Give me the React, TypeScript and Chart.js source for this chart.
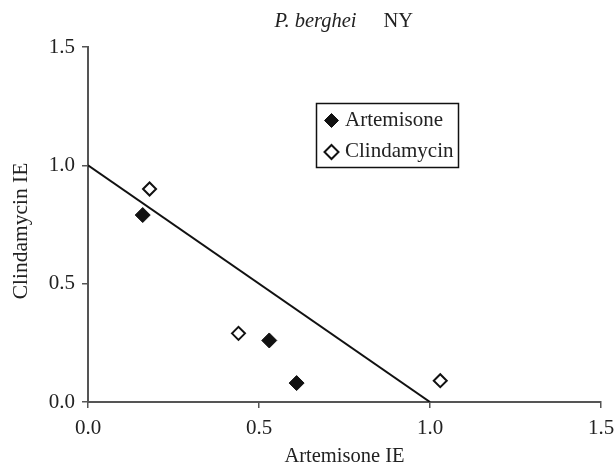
import React, { useEffect, useRef } from "react";
import { Chart, registerables } from "chart.js";

Chart.register(...registerables);

const titleItalic = "P. berghei";
const titleNormal = "NY";
const xAxisTitle = "Artemisone IE";
const yAxisTitle = "Clindamycin IE";
const seriesNames = ["Artemisone", "Clindamycin"];

const artemisoneX = [0.16, 0.53, 0.61];
const artemisoneY = [0.79, 0.26, 0.08];
const clindamycinX = [0.18, 0.44, 1.03];
const clindamycinY = [0.9, 0.29, 0.09];
const additivityX = [0, 1];
const additivityY = [1, 0];

const axisMin = 0;
const axisMax = 1.5;
const axisStep = 0.5;

const FONT = "'Liberation Serif', 'Times New Roman', serif";
const TEXT = "#222222";
const AXIS = "#555555";

function diamond(ctx: CanvasRenderingContext2D, x: number, y: number, r: number, filled: boolean) {
  ctx.save();
  ctx.beginPath();
  ctx.moveTo(x, y - r);
  ctx.lineTo(x + r, y);
  ctx.lineTo(x, y + r);
  ctx.lineTo(x - r, y);
  ctx.closePath();
  ctx.fillStyle = filled ? "#111111" : "#ffffff";
  ctx.fill();
  ctx.lineWidth = filled ? 1 : 2;
  ctx.strokeStyle = "#111111";
  ctx.stroke();
  ctx.restore();
}

const decorPlugin = {
  id: "decor",
  afterDraw(chart: any) {
    const ctx: CanvasRenderingContext2D = chart.ctx;
    const area = chart.chartArea;
    ctx.save();
    // title
    ctx.fillStyle = TEXT;
    ctx.textBaseline = "alphabetic";
    ctx.textAlign = "left";
    const cx = (area.left + area.right) / 2;
    const startX = cx - 70;
    ctx.font = `italic 20.5px ${FONT}`;
    const wI = ctx.measureText(titleItalic).width;
    ctx.fillText(titleItalic, startX, 27);
    ctx.font = `20.5px ${FONT}`;
    ctx.fillText(titleNormal, startX + wI + 27, 27);

    // y axis title
    ctx.save();
    ctx.translate(21, (area.top + area.bottom) / 2 + 6.5);
    ctx.rotate(-Math.PI / 2);
    ctx.font = `21.5px ${FONT}`;
    ctx.textAlign = "center";
    ctx.textBaseline = "middle";
    ctx.fillStyle = TEXT;
    ctx.fillText(yAxisTitle, 0, 0);
    ctx.restore();

    // legend
    const lx = area.left + 228.5;
    const ly = 103.5;
    ctx.lineWidth = 1.5;
    ctx.strokeStyle = "#111111";
    ctx.strokeRect(lx, ly, 142, 64);
    ctx.font = `21px ${FONT}`;
    const rows = [
      { name: seriesNames[0], filled: true, y: 120.5 },
      { name: seriesNames[1], filled: false, y: 152 },
    ];
    rows.forEach((r) => {
      diamond(ctx, lx + 15, r.y, 7, r.filled);
      ctx.fillStyle = TEXT;
      ctx.textAlign = "left";
      ctx.textBaseline = "alphabetic";
      ctx.fillText(r.name, lx + 28.5, r.y + 5);
    });
    ctx.restore();
  },
};

export default function App() {
  const ref = useRef<HTMLCanvasElement | null>(null);
  useEffect(() => {
    if (!ref.current) return;
    const toPts = (xs: number[], ys: number[]) => xs.map((x, i) => ({ x, y: ys[i] }));
    const tickFmt = (v: any) => Number(v).toFixed(1);
    const chart = new Chart(ref.current, {
      type: "scatter",
      data: {
        datasets: [
          {
            type: "line",
            label: "additivity",
            data: toPts(additivityX, additivityY),
            borderColor: "#111111",
            borderWidth: 2,
            pointRadius: 0,
            fill: false,
            showLine: true,
            order: 3,
          } as any,
          {
            label: seriesNames[0],
            data: toPts(artemisoneX, artemisoneY),
            pointStyle: "rectRot",
            pointRadius: 7.5,
            backgroundColor: "#111111",
            borderColor: "#111111",
            borderWidth: 1,
            order: 1,
          },
          {
            label: seriesNames[1],
            data: toPts(clindamycinX, clindamycinY),
            pointStyle: "rectRot",
            pointRadius: 6.5,
            backgroundColor: "#ffffff",
            borderColor: "#111111",
            borderWidth: 2,
            order: 2,
          },
        ],
      },
      options: {
        responsive: false,
        animation: false,
        layout: { padding: { top: 47, right: 13, left: 0, bottom: 0 } },
        plugins: {
          legend: { display: false },
          title: { display: false },
          tooltip: { enabled: false },
        },
        scales: {
          x: {
            type: "linear",
            min: axisMin,
            max: axisMax,
            afterFit: (s: any) => {
              s.height = 65;
              s.paddingLeft = 0;
              s.paddingRight = 0;
            },
            ticks: {
              stepSize: axisStep,
              callback: tickFmt,
              color: TEXT,
              padding: 8,
              maxRotation: 0,
              font: { family: FONT, size: 21 },
            },
            grid: {
              drawOnChartArea: false,
              drawTicks: true,
              tickLength: 6,
              color: AXIS,
              lineWidth: 1.5,
            },
            border: { display: true, color: AXIS, width: 2 },
            title: {
              display: true,
              text: xAxisTitle,
              color: TEXT,
              font: { family: FONT, size: 20.5, lineHeight: 1 },
              padding: { top: 0, bottom: 0 },
            },
          },
          y: {
            type: "linear",
            min: axisMin,
            max: axisMax,
            afterFit: (s: any) => {
              s.width = 88;
              s.paddingTop = 0;
              s.paddingBottom = 0;
            },
            ticks: {
              stepSize: axisStep,
              callback: tickFmt,
              color: TEXT,
              padding: 7,
              font: { family: FONT, size: 21 },
            },
            grid: {
              drawOnChartArea: false,
              drawTicks: true,
              tickLength: 6,
              color: AXIS,
              lineWidth: 1.5,
            },
            border: { display: true, color: AXIS, width: 2 },
            title: { display: false },
          },
        },
      },
      plugins: [decorPlugin],
    } as any);
    return () => chart.destroy();
  }, []);
  return (
    <div style={{ position: "fixed", left: 0, top: 0, width: 614, height: 467, background: "#fff" }}>
      <canvas ref={ref} width={614} height={467} style={{ display: "block" }} />
    </div>
  );
}
